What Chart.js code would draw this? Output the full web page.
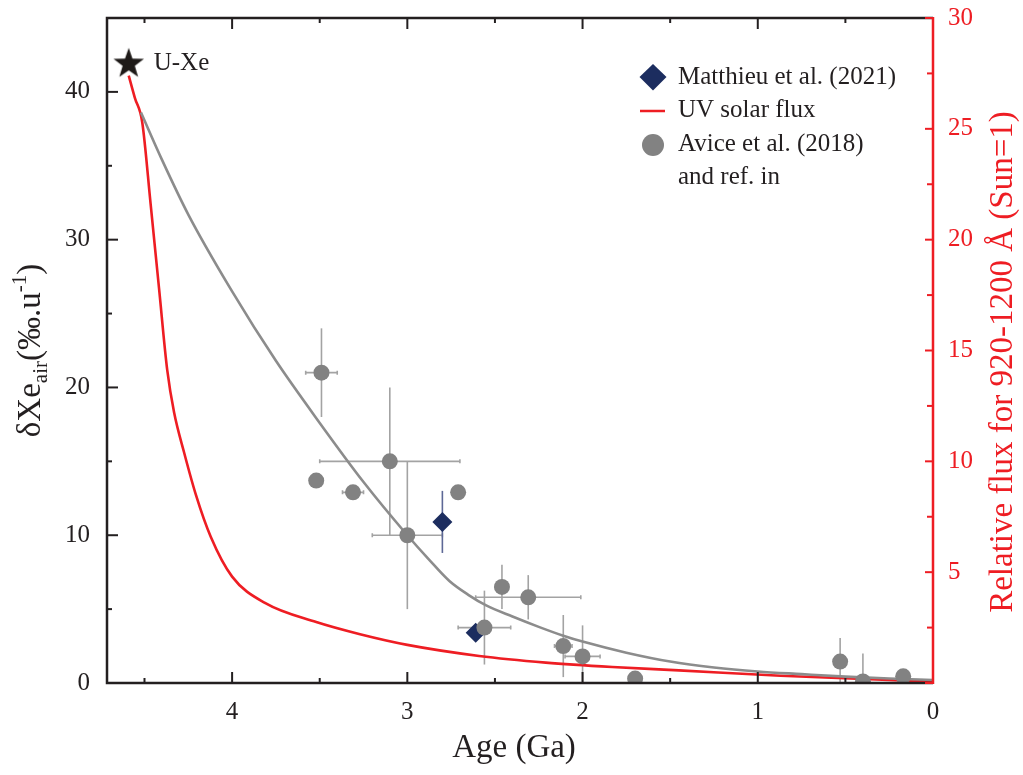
<!DOCTYPE html>
<html>
<head>
<meta charset="utf-8">
<script src="https://cdn.jsdelivr.net/npm/chart.js@4.4.0/dist/chart.umd.min.js"></script>
<style>
  body { margin: 0; background: #fff; }
  canvas { display: block; }
</style>
</head>
<body>
<canvas id="xeChart" width="1023" height="775"></canvas>
<script>
// Avice et al. (2018) and ref. in : age (Ga), dXe (permil/u) and errors
const aviceAge    = [3.49, 3.52, 3.31, 3.10, 3.00, 2.71, 2.46, 2.31, 2.56, 2.11, 2.00, 1.70, 0.53, 0.40, 0.17];
const aviceXe     = [21.0, 13.7, 12.9, 15.0, 10.0, 12.9, 6.5, 5.8, 3.75, 2.5, 1.8, 0.3, 1.45, 0.1, 0.45];
const aviceAgeErr = [0.09, 0, 0.06, 0.40, 0.20, 0, 0, 0.30, 0.15, 0.05, 0.10, 0, 0, 0, 0];
const aviceXeErr  = [3.0, 0, 0, 5.0, 5.0, 0, 1.5, 1.5, 2.5, 2.1, 2.1, 0, 1.6, 1.9, 0];

// Matthieu et al. (2021)
const matthieuAge   = [2.80, 2.61];
const matthieuXe    = [10.9, 3.4];
const matthieuXeErr = [2.1, 0];

// U-Xe starting composition
const uxeAge = [4.59];
const uxeXe  = [42.0];

// fractionation model curve
const modelAge = [4.52, 4.40, 4.25, 4.00, 3.75, 3.50, 3.25, 3.00, 2.88, 2.76, 2.65, 2.55, 2.40, 2.25, 2.11, 2.00, 1.75, 1.50, 1.25, 1.00, 0.75, 0.50, 0.25, 0.00];
const modelXe  = [38.6, 35.4, 31.7, 26.5, 21.8, 17.6, 13.6, 10.0, 8.4, 6.9, 5.95, 5.25, 4.5, 3.8, 3.2, 2.8, 2.05, 1.45, 1.05, 0.78, 0.60, 0.43, 0.30, 0.20];

// relative UV flux 920-1200 A (right axis)
const uvAge  = [4.59, 4.555, 4.513, 4.465, 4.417, 4.37, 4.331, 4.274, 4.207, 4.122, 4.00, 3.81, 3.52, 3.27, 3.00, 2.59, 2.21, 1.83, 1.45, 0.87, 0.00];
const uvFlux = [27.4, 26.4, 25.3, 21.6, 17.8, 14.1, 12.2, 10.4, 8.5, 6.6, 4.8, 3.6, 2.75, 2.2, 1.72, 1.22, 0.92, 0.72, 0.57, 0.33, 0.06];

// axes
const xTicks  = [0, 1, 2, 3, 4];
const yTicks  = [0, 10, 20, 30, 40];
const y2Ticks = [5, 10, 15, 20, 25, 30];

const FONT = "'Liberation Serif', 'Times New Roman', serif";
const INK = '#231f20';
const RED = '#ee1d23';
const GRAY = '#828282';
const NAVY = '#1c2d5f';

function pts(xs, ys) {
    return xs.map((v, i) => ({ x: v, y: ys[i] }));
}

// filled five point star used as point style
function makeStar(r) {
    const c = document.createElement('canvas');
    c.width = c.height = Math.ceil(r * 2 + 2);
    const g = c.getContext('2d');
    const cx = c.width / 2, cy = c.height / 2 + 1.5;
    g.beginPath();
    for (let i = 0; i < 10; i++) {
        const rad = i % 2 === 0 ? r : r * 0.4;
        const a = -Math.PI / 2 + i * Math.PI / 5;
        g.lineTo(cx + rad * Math.cos(a), cy + rad * Math.sin(a));
    }
    g.closePath();
    g.fillStyle = '#1e1a18';
    g.fill();
    return c;
}

function drawErrors(ctx, sx, sy, xs, ys, xe, ye, color) {
    ctx.strokeStyle = color;
    ctx.lineWidth = 1.6;
    xs.forEach((v, i) => {
        const px = sx.getPixelForValue(v);
        const py = sy.getPixelForValue(ys[i]);
        if (ye && ye[i]) {
            ctx.beginPath();
            ctx.moveTo(px, sy.getPixelForValue(ys[i] + ye[i]));
            ctx.lineTo(px, sy.getPixelForValue(ys[i] - ye[i]));
            ctx.stroke();
        }
        if (xe && xe[i]) {
            const a = sx.getPixelForValue(v + xe[i]);
            const b = sx.getPixelForValue(v - xe[i]);
            ctx.beginPath();
            ctx.moveTo(a, py);
            ctx.lineTo(b, py);
            ctx.moveTo(a, py - 2); ctx.lineTo(a, py + 2);
            ctx.moveTo(b, py - 2); ctx.lineTo(b, py + 2);
            ctx.stroke();
        }
    });
}

const errorBars = {
    id: 'errorBars',
    beforeDatasetsDraw(chart) {
        const { ctx, chartArea: a, scales } = chart;
        ctx.save();
        ctx.beginPath();
        ctx.rect(a.left, a.top, a.width, a.height);
        ctx.clip();
        drawErrors(ctx, scales.x, scales.y, aviceAge, aviceXe, aviceAgeErr, aviceXeErr, '#a3a3a3');
        drawErrors(ctx, scales.x, scales.y, matthieuAge, matthieuXe, null, matthieuXeErr, '#5d6896');
        ctx.restore();
    }
};

function tickMarks(ctx, scale, from, to, step, majorEvery, horizontal, base, dir, major, minor) {
    for (let v = from; v <= to + 1e-9; v += step) {
        const p = scale.getPixelForValue(v);
        const isMajor = Math.abs(v / majorEvery - Math.round(v / majorEvery)) < 1e-6;
        const len = isMajor ? major : minor;
        ctx.beginPath();
        if (horizontal) { ctx.moveTo(p, base); ctx.lineTo(p, base + dir * len); }
        else { ctx.moveTo(base, p); ctx.lineTo(base + dir * len, p); }
        ctx.stroke();
    }
}

const frame = {
    id: 'frame',
    afterDraw(chart) {
        const { ctx, chartArea: a, scales: { x, y, y2 } } = chart;
        ctx.save();
        ctx.lineCap = 'butt';

        // black frame: bottom, left, top
        ctx.strokeStyle = INK;
        ctx.lineWidth = 2.5;
        ctx.beginPath();
        ctx.moveTo(a.right, a.bottom); ctx.lineTo(a.left, a.bottom); ctx.lineTo(a.left, a.top); ctx.lineTo(a.right, a.top);
        ctx.stroke();
        ctx.lineWidth = 2;
        tickMarks(ctx, x, 0, 4.5, 0.5, 1, true, a.bottom, -1, 11, 5);
        tickMarks(ctx, x, 0, 4.5, 0.5, 1, true, a.top, 1, 11, 5);
        tickMarks(ctx, y, 0, 45, 5, 10, false, a.left, 1, 11, 5);

        // red right axis
        ctx.strokeStyle = RED;
        ctx.lineWidth = 2.5;
        ctx.beginPath();
        ctx.moveTo(a.right, a.top - 1); ctx.lineTo(a.right, a.bottom + 1);
        ctx.stroke();
        ctx.lineWidth = 2;
        tickMarks(ctx, y2, 0, 30, 2.5, 5, false, a.right, -1, 8, 6);

        // axis titles
        ctx.fillStyle = INK;
        ctx.font = `33px ${FONT}`;
        ctx.textAlign = 'center';
        ctx.textBaseline = 'middle';
        ctx.fillText('Age (Ga)', 514, 748);

        // left title with subscript and superscript
        const big = `33px ${FONT}`, small = `21px ${FONT}`;
        const parts = [
            { t: 'δXe', f: big, dy: 0 },
            { t: 'air', f: small, dy: 7 },
            { t: '(‰.u', f: big, dy: 0 },
            { t: '-1', f: small, dy: -14 },
            { t: ')', f: big, dy: 0 }
        ];
        let total = 0;
        parts.forEach(p => { ctx.font = p.f; p.w = ctx.measureText(p.t).width; total += p.w; });
        ctx.save();
        ctx.translate(40, (a.top + a.bottom) / 2);
        ctx.rotate(-Math.PI / 2);
        ctx.textAlign = 'left';
        ctx.textBaseline = 'alphabetic';
        let cx = -total / 2;
        parts.forEach(p => { ctx.font = p.f; ctx.fillText(p.t, cx, p.dy); cx += p.w; });
        ctx.restore();

        // right title
        ctx.save();
        ctx.translate(1012, 362);
        ctx.rotate(-Math.PI / 2);
        ctx.fillStyle = RED;
        ctx.font = `33px ${FONT}`;
        ctx.textAlign = 'center';
        ctx.textBaseline = 'alphabetic';
        ctx.fillText('Relative flux for 920-1200 Å (Sun=1)', 0, 0);
        ctx.restore();

        // U-Xe label next to the star
        ctx.fillStyle = INK;
        ctx.font = `25px ${FONT}`;
        ctx.textAlign = 'left';
        ctx.textBaseline = 'middle';
        ctx.fillText('U-Xe', x.getPixelForValue(uxeAge[0]) + 25, y.getPixelForValue(uxeXe[0]) + 1);

        // legend
        const lx = 653, tx = 678;
        ctx.fillStyle = NAVY;
        ctx.beginPath();
        ctx.moveTo(lx, 64); ctx.lineTo(lx + 13.5, 77); ctx.lineTo(lx, 90.5); ctx.lineTo(lx - 13.5, 77);
        ctx.closePath();
        ctx.fill();
        ctx.strokeStyle = RED;
        ctx.lineWidth = 2.5;
        ctx.beginPath();
        ctx.moveTo(640, 111); ctx.lineTo(665, 111);
        ctx.stroke();
        ctx.fillStyle = GRAY;
        ctx.beginPath();
        ctx.arc(lx, 145, 11, 0, Math.PI * 2);
        ctx.fill();
        ctx.fillStyle = INK;
        ctx.font = `25px ${FONT}`;
        ctx.fillText('Matthieu et al. (2021)', tx, 77);
        ctx.fillText('UV solar flux', tx, 110);
        ctx.fillText('Avice et al. (2018)', tx, 144);
        ctx.fillText('and ref. in', tx, 177);
        ctx.restore();
    }
};

// fixed box sizes so the plot area sits at 107..933 x 18..683
function fitVertical(width) {
    return s => { s.width = width; s.paddingTop = 0; s.paddingBottom = 0; };
}

const ctx = document.getElementById('xeChart').getContext('2d');
new Chart(ctx, {
    type: 'scatter',
    data: {
        datasets: [
            {
                label: 'U-Xe',
                data: pts(uxeAge, uxeXe),
                pointStyle: makeStar(16),
                order: 0
            },
            {
                label: 'Avice et al. (2018) and ref. in',
                data: pts(aviceAge, aviceXe),
                pointRadius: 8,
                pointBackgroundColor: GRAY,
                pointBorderWidth: 0,
                order: 1
            },
            {
                label: 'Matthieu et al. (2021)',
                data: pts(matthieuAge, matthieuXe),
                pointStyle: 'rectRot',
                pointRadius: 10,
                pointBackgroundColor: NAVY,
                pointBorderWidth: 0,
                order: 2
            },
            {
                label: 'model',
                data: pts(modelAge, modelXe),
                showLine: true,
                pointRadius: 0,
                borderColor: '#8c8c8c',
                borderWidth: 2.6,
                cubicInterpolationMode: 'monotone',
                order: 3
            },
            {
                label: 'UV solar flux',
                data: pts(uvAge, uvFlux),
                yAxisID: 'y2',
                showLine: true,
                pointRadius: 0,
                borderColor: RED,
                borderWidth: 2.6,
                cubicInterpolationMode: 'monotone',
                order: 4
            }
        ]
    },
    options: {
        responsive: false,
        animation: false,
        layout: { padding: { top: 18, left: 0, right: 0, bottom: 0 } },
        plugins: {
            legend: { display: false },
            tooltip: { enabled: false }
        },
        scales: {
            x: {
                type: 'linear',
                reverse: true,
                min: 0,
                max: 4.714,
                afterBuildTicks: s => { s.ticks = xTicks.map(v => ({ value: v })); },
                ticks: { font: { family: FONT, size: 25 }, color: INK, padding: 14, maxRotation: 0 },
                grid: { display: false, drawTicks: false },
                border: { display: false },
                afterFit: s => { s.height = 92; s.paddingLeft = 0; s.paddingRight = 0; }
            },
            y: {
                position: 'left',
                min: 0,
                max: 45,
                afterBuildTicks: s => { s.ticks = yTicks.map(v => ({ value: v })); },
                ticks: { font: { family: FONT, size: 25 }, color: INK, padding: 17 },
                grid: { display: false, drawTicks: false },
                border: { display: false },
                afterFit: fitVertical(107)
            },
            y2: {
                position: 'right',
                min: 0,
                max: 30,
                afterBuildTicks: s => { s.ticks = y2Ticks.map(v => ({ value: v })); },
                ticks: { font: { family: FONT, size: 25 }, color: RED, padding: 15 },
                grid: { display: false, drawTicks: false },
                border: { display: false },
                afterFit: fitVertical(90)
            }
        }
    },
    plugins: [errorBars, frame]
});
</script>
</body>
</html>
